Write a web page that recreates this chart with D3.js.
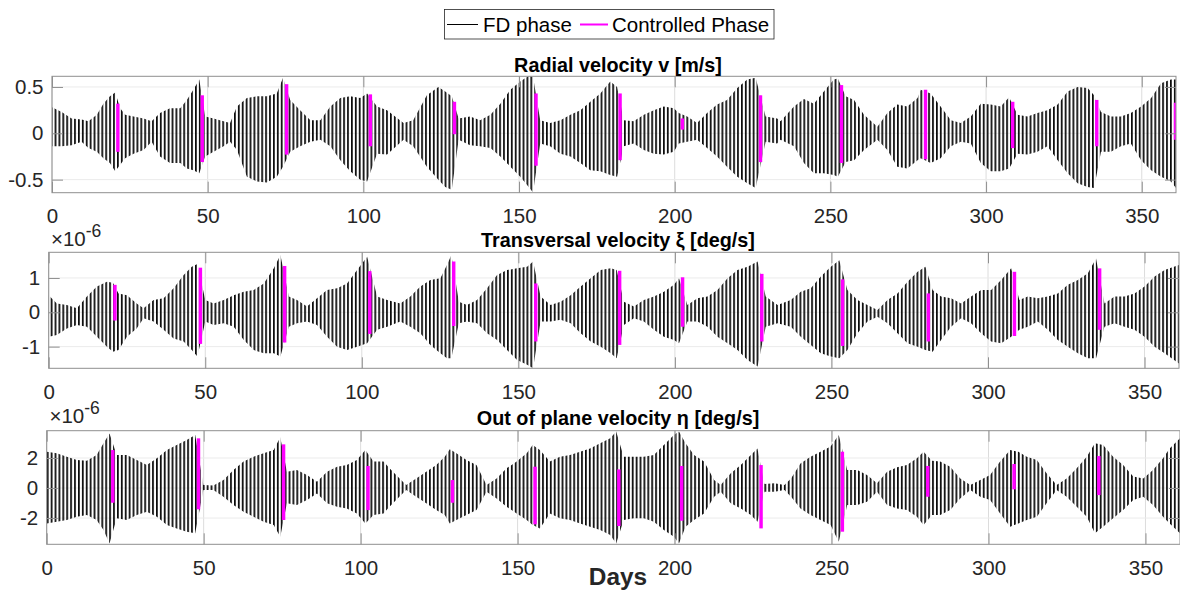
<!DOCTYPE html>
<html><head><meta charset="utf-8">
<script src="https://cdn.jsdelivr.net/npm/d3@7"></script>
<style>
body{margin:0;background:#fff}
svg{display:block}
text{font-family:"Liberation Sans",Arial,Helvetica,sans-serif}
</style>
</head><body>
<svg id="chart" width="1180" height="590"></svg>
<script>
// ---------------- DATA ----------------
const xDomain = [0, 361];
const xTicks = [0, 50, 100, 150, 200, 250, 300, 350];
const legendLabels = ["FD phase", "Controlled Phase"];
const titles = ["Radial velocity v [m/s]", "Transversal velocity \u03BE [deg/s]", "Out of plane velocity \u03B7 [deg/s]"];
const xLabel = "Days";

// Envelope of the oscillating FD-phase signal: [day, upper peak, lower peak]
const vEnvelope = [
[0,0.28,-0.14],[3.1,0.23,-0.14],[6.3,0.16,-0.13],[9.5,0.15,-0.09],[11.7,0.13,-0.16],[14.4,0.20,-0.20],[16.5,0.32,-0.27],[18.6,0.40,-0.32],[20.3,0.44,-0.41],
[21.9,0.27,-0.34],[23.5,0.20,-0.27],[26.2,0.18,-0.22],[29.4,0.16,-0.18],[32,0.13,-0.09],[34.7,0.22,-0.25],[37.9,0.27,-0.32],[41.2,0.27,-0.32],[43.3,0.36,-0.38],[45.4,0.47,-0.40],[47.3,0.58,-0.43],
[49.2,0.18,-0.25],[51.9,0.16,-0.20],[55.1,0.13,-0.14],[57.2,0.11,-0.09],[59.4,0.29,-0.18],[62.6,0.38,-0.47],[65.8,0.40,-0.52],[69,0.40,-0.53],[72.2,0.43,-0.47],[74.2,0.60,-0.36],
[76.5,0.36,-0.20],[79.7,0.25,-0.14],[83,0.14,-0.09],[86.2,0.14,-0.07],[89.4,0.29,-0.14],[92.6,0.38,-0.29],[95.8,0.40,-0.41],[99,0.38,-0.50],[101.2,0.43,-0.52],
[104.4,0.29,-0.22],[107.6,0.25,-0.23],[112.9,0.11,-0.07],[116,0.14,-0.14],[120.4,0.41,-0.36],[124.1,0.50,-0.50],[126.3,0.45,-0.58],[128.4,0.40,-0.61],
[130.6,0.16,-0.07],[134.3,0.18,-0.13],[137.5,0.14,-0.14],[140.8,0.20,-0.16],[144,0.32,-0.25],[147.2,0.47,-0.36],[150.4,0.56,-0.47],[153.1,0.62,-0.58],[154.5,0.61,-0.64],
[156.8,0.14,-0.11],[160,0.11,-0.14],[163.3,0.14,-0.22],[166.5,0.20,-0.25],[169.7,0.25,-0.32],[172.9,0.34,-0.40],[176.1,0.43,-0.41],[179.3,0.56,-0.45],[181.5,0.50,-0.47],
[183.6,0.14,-0.14],[186.8,0.13,-0.11],[190.1,0.20,-0.18],[193.3,0.25,-0.22],[196.5,0.29,-0.23],[199.7,0.27,-0.20],[201.3,0.22,-0.11],
[204,0.18,-0.09],[207.2,0.11,-0.07],[210.4,0.22,-0.16],[213.6,0.31,-0.25],[216.8,0.36,-0.36],[220.1,0.49,-0.47],[223.3,0.58,-0.54],[226,0.60,-0.59],
[229.2,0.18,-0.09],[232.9,0.16,-0.11],[234,0.13,-0.07],[238.3,0.29,-0.14],[241.5,0.37,-0.32],[244.7,0.32,-0.43],[247.9,0.45,-0.43],[251.1,0.58,-0.45],[252.4,0.59,-0.47],
[254.9,0.40,-0.31],[257.6,0.36,-0.29],[260.8,0.20,-0.18],[265.1,0.07,-0.07],[268.3,0.22,-0.18],[271.5,0.31,-0.36],[274.7,0.29,-0.38],[278,0.38,-0.29],[279,0.47,-0.27],
[282.2,0.43,-0.32],[285.4,0.29,-0.27],[288.7,0.14,-0.14],[291.9,0.11,-0.09],[295.1,0.18,-0.11],[298.3,0.32,-0.32],[301.5,0.31,-0.41],[304.7,0.29,-0.41],[307.4,0.39,-0.38],
[310.1,0.20,-0.22],[313.3,0.18,-0.23],[316.5,0.22,-0.20],[319.7,0.25,-0.14],[323,0.31,-0.29],[326.2,0.45,-0.43],[329.4,0.50,-0.54],[332.6,0.49,-0.58],[334.7,0.41,-0.59],
[336.9,0.23,-0.20],[340.1,0.18,-0.20],[343.3,0.18,-0.14],[346.5,0.22,-0.11],[349.8,0.29,-0.29],[353,0.38,-0.40],[356.2,0.54,-0.47],[359.4,0.58,-0.52],[361,0.58,-0.59]
];
// Controlled phase segments: [day, top, bottom]
const vControl = [[20.6,0.32,-0.20],[47.7,0.41,-0.31],[74.8,0.53,-0.23],[101.7,0.42,-0.14],[128.7,0.34,-0.01],[154.9,0.43,-0.35],[181.9,0.43,-0.29],
[201.9,0.16,0.04],[227,0.41,-0.31],[253,0.52,-0.32],[280,0.47,-0.28],[308,0.34,-0.16],[335,0.36,-0.14],[360.3,0.33,-0.07]];

const xiEnvelope = [
[0,0.50,-0.71],[2.6,0.26,-0.66],[5.8,0.21,-0.47],[9,0.12,-0.37],[12.2,0.46,-0.42],[15.4,0.75,-0.71],[18.6,0.89,-1.0],[20.5,0.86,-1.15],[22.3,0.55,-1.1],
[25,0.50,-0.71],[28.1,0.26,-0.47],[30.3,0.12,-0.17],[33.5,0.36,-0.27],[36.7,0.41,-0.51],[39.9,0.70,-0.76],[43.1,1.09,-0.85],[45.7,1.33,-1.10],[47.5,1.41,-1.29],
[50,0.36,-0.27],[52.7,0.26,-0.37],[55.9,0.36,-0.32],[59.1,0.50,-0.42],[62.3,0.60,-0.81],[65.5,0.65,-1.10],[68.7,0.84,-1.19],[71.9,1.28,-1.19],[74,1.67,-1.29],
[76.7,0.46,-0.42],[79.3,0.36,-0.32],[82.5,0.17,-0.27],[85.7,0.41,-0.37],[88.9,0.65,-0.71],[92.1,0.70,-1.0],[95.3,0.84,-1.10],[98.5,1.23,-1.0],[101.7,1.62,-0.90],
[104.9,0.46,-0.51],[108.1,0.36,-0.42],[112.3,0.26,-0.27],[115.5,0.46,-0.42],[118.7,0.75,-0.61],[121.9,0.94,-0.95],[125.1,0.99,-1.19],[127.2,1.38,-1.34],[128.6,1.67,-1.34],
[131,0.31,-0.32],[133.6,0.21,-0.27],[136.8,0.36,-0.32],[140,0.70,-0.61],[143.2,1.09,-0.81],[146.4,1.23,-1.10],[149.6,1.28,-1.39],[152.8,1.33,-1.53],[154.7,1.48,-1.63],
[157.1,0.46,-0.27],[160.3,0.21,-0.27],[163.5,0.31,-0.22],[166.7,0.50,-0.32],[169.9,0.75,-0.61],[173.1,0.99,-0.85],[176.3,1.23,-1.0],[179.5,1.28,-1.19],[181.4,1.23,-1.34],
[183.7,0.31,-0.37],[186.9,0.17,-0.17],[190.1,0.36,-0.27],[193.3,0.46,-0.51],[196.5,0.60,-0.71],[199.7,0.80,-0.81],[201.3,0.99,-0.90],
[204,0.21,-0.27],[207.2,0.41,-0.27],[210.4,0.46,-0.42],[213.6,0.65,-0.71],[216.8,0.99,-0.90],[220,1.23,-1.10],[223.2,1.33,-1.39],[226.4,1.48,-1.58],
[229,0.46,-0.42],[232.8,0.21,-0.32],[237,0.36,-0.42],[240.2,0.60,-0.71],[243.4,0.70,-0.95],[246.6,1.04,-1.19],[249.8,1.33,-1.29],[252.5,1.52,-1.34],
[255.1,0.65,-1.10],[258.3,0.36,-0.61],[261.5,0.21,-0.27],[264.7,0.07,-0.13],[267.9,0.36,-0.32],[271.1,0.55,-0.61],[274.3,0.89,-0.90],[277.5,1.18,-1.0],[280,1.33,-1.10],
[282.3,0.65,-1.15],[285,0.46,-0.81],[288.2,0.41,-0.42],[291.4,0.26,-0.17],[294.6,0.46,-0.32],[297.8,0.65,-0.61],[301,0.65,-0.85],[304.2,0.94,-0.90],[307.4,1.28,-0.71],
[310,0.36,-0.51],[312.7,0.46,-0.42],[315.9,0.41,-0.27],[319.1,0.46,-0.51],[322.3,0.55,-0.81],[325.5,0.80,-1.0],[328.7,0.94,-1.19],[331.9,1.14,-1.34],[334.5,1.57,-1.34],
[337.2,0.26,-0.42],[340.4,0.46,-0.32],[343.6,0.46,-0.42],[346.8,0.55,-0.51],[350,0.75,-0.71],[353.2,1.04,-1.0],[356.4,1.23,-1.19],[361,1.38,-1.49]
];
const xiControl = [[20.6,0.80,-0.24],[47.9,1.30,-0.92],[74.8,1.35,-0.88],[102,1.20,-0.63],[128.8,1.48,-0.40],[155,0.84,-0.85],[181.8,1.21,-0.95],
[201.9,1.02,-0.42],[227.2,1.12,-0.85],[253,0.96,-0.98],[280.4,0.55,-0.85],[307.9,1.18,-0.69],[335.1,1.28,-0.51]];

const etaEnvelope = [
[0,2.42,-2.36],[3.2,2.31,-2.24],[6.4,2.09,-2.13],[9.6,1.87,-1.91],[12.8,1.82,-1.8],[15.9,2.2,-2.13],[18.1,2.98,-2.8],[20,3.64,-3.69],
[22.3,2.2,-2.02],[25.5,2.2,-2.13],[28.7,1.87,-1.8],[31.9,1.53,-1.58],[35.1,1.98,-1.91],[38.3,2.53,-2.47],[41.4,2.87,-2.69],[44.6,3.2,-2.91],[47.3,3.53,-3.02],
[49.9,0.2,-0.13],[53.1,0.16,-0.13],[56.3,0.53,-0.58],[59.5,1.2,-1.13],[62.7,1.76,-1.58],[65.9,2.09,-1.91],[69.1,2.31,-2.24],[72.3,2.53,-2.47],[74.4,3.38,-3.24],
[76.5,1.09,-1.02],[79.7,1.2,-1.13],[82.9,0.87,-0.8],[86.1,0.42,-0.36],[89.3,1.09,-1.02],[92.5,1.42,-1.24],[95.6,1.53,-1.36],[98.8,1.87,-1.69],[101.5,2.53,-2.36],
[104.1,1.76,-1.8],[107.3,1.76,-1.69],[109.2,1.31,-1.24],[111.3,0.87,-0.8],[114.5,0.2,-0.13],[117.7,0.64,-0.58],[120.9,1.09,-1.02],[124.1,1.53,-1.47],[126.8,2.09,-1.8],[128.4,2.58,-2.36],
[130.5,2.31,-2.13],[133.7,1.87,-1.8],[136.9,1.53,-1.47],[140.1,0.2,-0.24],[143.3,0.64,-0.69],[146.5,1.31,-1.24],[149.7,1.76,-1.69],[152.9,2.31,-2.13],[154.8,2.87,-2.47],
[157.1,2.53,-2.69],[160.3,1.76,-1.69],[163.5,2.09,-2.02],[166.7,2.2,-2.13],[169.9,2.42,-2.36],[173.1,2.64,-2.58],[176.3,2.98,-2.8],[179.5,3.31,-3.13],[181.4,3.76,-3.69],
[183.8,2.09,-2.13],[187,2.09,-2.02],[190.2,2.09,-2.02],[193.4,2.2,-2.24],[196.6,2.87,-2.8],[199.8,3.53,-3.24],[201.4,3.76,-3.69],
[203.5,2.98,-2.58],[206.2,2.2,-2.13],[209.4,1.76,-1.69],[212.6,0.53,-0.58],[214.7,0.2,-0.24],[217.9,0.98,-1.02],[221.1,1.53,-1.36],[224.3,2.2,-1.8],[226.4,2.64,-2.24],
[228.6,0.27,-0.24],[231.8,0.31,-0.24],[235,0.2,-0.13],[237.1,0.64,-0.58],[240.1,1.64,-1.36],[243.3,2.09,-1.8],[246.5,2.42,-2.13],[249.7,2.76,-2.47],[252.3,3.53,-3.58],
[255,1.2,-1.13],[258.2,1.2,-1.13],[261.3,0.87,-0.91],[264.5,0.31,-0.24],[267.7,1.09,-1.13],[270.9,1.38,-1.36],[274,1.53,-1.47],[277.2,1.98,-1.91],[279.3,2.42,-2.47],
[282,1.82,-1.8],[284.6,1.76,-1.8],[287.8,1.42,-1.47],[291,0.64,-0.69],[294.2,0.2,-0.13],[297.4,0.53,-0.58],[300.5,0.87,-0.8],[303.7,1.76,-1.69],[306.9,2.53,-2.58],
[309.5,2.42,-2.36],[312.2,2.09,-2.13],[315.4,1.87,-1.91],[318.5,0.98,-1.02],[321.7,0.2,-0.13],[324.9,0.64,-0.58],[328.1,1.31,-1.24],[331.3,2.09,-1.91],[333.9,2.98,-3.02],
[336.5,2.87,-2.58],[339.7,2.09,-2.02],[342.9,1.53,-1.47],[346.1,0.76,-0.8],[349.3,0.64,-0.58],[352.4,1.2,-1.13],[355.6,1.98,-1.91],[357.7,2.64,-2.36],[361,3.31,-3.02]
];
const etaControl = [[20.5,2.53,-0.98],[47.8,3.31,-1.42],[74.9,2.91,-2.13],[101.8,1.47,-1.47],[128.7,0.53,-0.98],[155,1.42,-2.42],[181.7,1.24,-2.53],
[201.7,1.47,-2.18],[227,1.53,-2.69],[252.9,2.42,-2.91],[280.1,1.47,-0.58],[307.6,1.6,-0.09],[334.6,2.13,-0.47]];

const vTicks = [-0.5, 0, 0.5];
const xiTicks = [-1, 0, 1];
const etaTicks = [-2, 0, 2];
const vDomain = [-0.641, 0.615];
const xiDomain = [-1.631, 1.748];
const etaDomain = [-3.75, 3.82];

// ---------------- LAYOUT ----------------
const tickFont = 20.5;
const panels = [
  {env: vEnvelope, ctrl: vControl, yDomain: vDomain, yTicks: vTicks, title: titles[0], exp: false,
   left: 52, right: 1176, top: 76.3, bottom: 192.7, titleY: 71.5},
  {env: xiEnvelope, ctrl: xiControl, yDomain: xiDomain, yTicks: xiTicks, title: titles[1], exp: true,
   left: 48.7, right: 1179, top: 252.3, bottom: 368.3, titleY: 247.3, expX: 51, expY: 246},
  {env: etaEnvelope, ctrl: etaControl, yDomain: etaDomain, yTicks: etaTicks, title: titles[2], exp: true,
   left: 46.7, right: 1180, top: 430.7, bottom: 544.3, titleY: 425, expX: 49.5, expY: 423.3}
];

const svg = d3.select("#chart");
const defs = svg.append("defs");
const pat = defs.append("pattern").attr("id", "osc")
  .attr("patternUnits", "userSpaceOnUse").attr("width", 3.9).attr("height", 590);
pat.append("rect").attr("x", 0).attr("y", 0).attr("width", 1.75).attr("height", 590).attr("fill", "#0a0a0a");

const axisColor = "#8f8f8f";
const textColor = "#262626";

panels.forEach((p, i) => {
  const x = d3.scaleLinear().domain(xDomain).range([p.left, p.right]);
  const y = d3.scaleLinear().domain(p.yDomain).range([p.bottom, p.top]);
  const g = svg.append("g");

  defs.append("clipPath").attr("id", "clip" + i)
    .append("rect").attr("x", p.left).attr("y", p.top)
    .attr("width", p.right - p.left).attr("height", p.bottom - p.top);

  // grid
  g.append("g").selectAll("line").data(xTicks).join("line")
    .attr("x1", d => x(d)).attr("x2", d => x(d)).attr("y1", p.top).attr("y2", p.bottom)
    .attr("stroke", "#dcdcdc").attr("stroke-width", 1);
  g.append("g").selectAll("line").data(p.yTicks).join("line")
    .attr("x1", p.left).attr("x2", p.right).attr("y1", d => y(d)).attr("y2", d => y(d))
    .attr("stroke", "#ebebeb").attr("stroke-width", 1);

  const plot = g.append("g").attr("clip-path", `url(#clip${i})`);
  // FD phase oscillation (envelope filled with oscillation strokes)
  const area = d3.area().x(d => x(d[0])).y0(d => y(d[2])).y1(d => y(d[1]));
  plot.append("path").datum(p.env).attr("d", area).attr("fill", "url(#osc)");

  // Controlled phase
  plot.append("g").selectAll("rect").data(p.ctrl).join("rect")
    .attr("x", d => x(d[0])).attr("width", d => x(d[0] + 1.1) - x(d[0]))
    .attr("y", d => y(d[1])).attr("height", d => y(d[2]) - y(d[1]))
    .attr("fill", "#ff00ff");

  // axes
  const fmt = d => String(d);
  const styleAxis = sel => {
    sel.select(".domain").remove();
    sel.selectAll(".tick line").attr("stroke", axisColor);
    sel.selectAll(".tick text").attr("fill", textColor).style("font-size", tickFont + "px")
      .style("font-family", '"Liberation Sans",Arial,sans-serif');
  };
  g.append("g").attr("transform", `translate(0,${p.bottom})`)
    .call(d3.axisBottom(x).tickValues(xTicks).tickFormat(fmt).tickSizeInner(-11).tickSizeOuter(0).tickPadding(16))
    .call(styleAxis);
  g.append("g").attr("transform", `translate(0,${p.top})`)
    .call(d3.axisTop(x).tickValues(xTicks).tickFormat("").tickSizeInner(-11).tickSizeOuter(0))
    .call(styleAxis);
  g.append("g").attr("transform", `translate(${p.left},0)`)
    .call(d3.axisLeft(y).tickValues(p.yTicks).tickFormat(fmt).tickSizeInner(-11).tickSizeOuter(0).tickPadding(8.5))
    .call(styleAxis);
  g.append("g").attr("transform", `translate(${p.right},0)`)
    .call(d3.axisRight(y).tickValues(p.yTicks).tickFormat("").tickSizeInner(-11).tickSizeOuter(0))
    .call(styleAxis);

  // box
  g.append("rect").attr("x", p.left).attr("y", p.top)
    .attr("width", p.right - p.left).attr("height", p.bottom - p.top)
    .attr("fill", "none").attr("stroke", axisColor).attr("stroke-width", 1);

  // title
  svg.append("text").attr("x", 618).attr("y", p.titleY).attr("text-anchor", "middle")
    .attr("font-size", 19.8).attr("font-weight", "bold").attr("fill", "#000").text(p.title);

  // exponent
  if (p.exp) {
    const t = svg.append("text").attr("x", p.expX).attr("y", p.expY)
      .attr("font-size", tickFont).attr("fill", textColor);
    t.append("tspan").text("\u00D710");
    t.append("tspan").attr("dy", -9).attr("font-size", 17.5).text("-6");
  }
});

// x label
svg.append("text").attr("x", 618).attr("y", 585).attr("text-anchor", "middle")
  .attr("font-size", 24.4).attr("font-weight", "bold").attr("fill", textColor).text(xLabel);

// legend
const lg = svg.append("g");
lg.append("rect").attr("x", 444.5).attr("y", 9.5).attr("width", 329.5).attr("height", 29.5)
  .attr("fill", "#fff").attr("stroke", "#262626").attr("stroke-width", 0.8);
lg.append("line").attr("x1", 447).attr("x2", 478).attr("y1", 24.5).attr("y2", 24.5)
  .attr("stroke", "#000").attr("stroke-width", 1);
lg.append("text").attr("x", 483).attr("y", 32).attr("font-size", 20.5).attr("fill", "#000").text(legendLabels[0]);
lg.append("line").attr("x1", 580).attr("x2", 608).attr("y1", 24.5).attr("y2", 24.5)
  .attr("stroke", "#ff00ff").attr("stroke-width", 2);
lg.append("text").attr("x", 612).attr("y", 32).attr("font-size", 20.5).attr("fill", "#000").text(legendLabels[1]);
</script>
</body></html>
